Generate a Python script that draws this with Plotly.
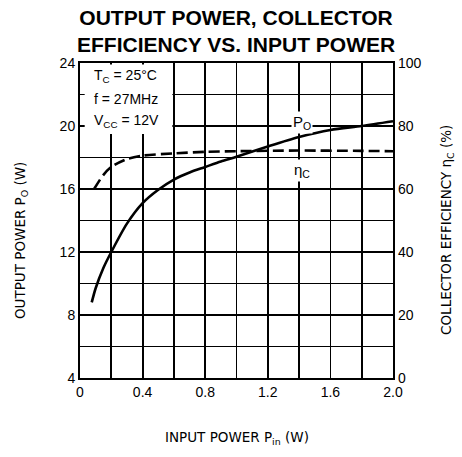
import plotly.graph_objects as go

# Data
pin_po = [0.075, 0.10, 0.15, 0.20, 0.30, 0.40, 0.50, 0.60, 0.70, 0.80, 0.90, 1.00, 1.20, 1.40, 1.60, 1.80, 2.00]
po_w = [8.8, 9.7, 11.0, 12.0, 13.8, 15.1, 15.95, 16.6, 17.05, 17.4, 17.75, 18.05, 18.7, 19.3, 19.75, 20.0, 20.3]

pin_eff = [0.09, 0.15, 0.20, 0.30, 0.40, 0.60, 0.80, 1.00, 1.40, 1.80, 2.00]
eff_pct = [60.0, 64.5, 67.0, 69.5, 70.6, 71.3, 71.8, 72.0, 72.2, 72.1, 72.0]

x_tickvals = [0, 0.4, 0.8, 1.2, 1.6, 2.0]
x_ticktext = ["0", "0.4", "0.8", "1.2", "1.6", "2.0"]
y_tickvals = [4, 8, 12, 16, 20, 24]
y2_tickvals = [0, 20, 40, 60, 80, 100]

conditions = ["T<sub>C</sub> = 25°C", "f = 27MHz", "V<sub>CC</sub> = 12V"]
condition_y = [23.15, 21.7, 20.3]

FONT = "Liberation Sans, Arial, Helvetica, sans-serif"
WIDE = "DejaVu Sans, Verdana, sans-serif"
GW = 1.8

fig = go.Figure()
fig.add_trace(go.Scatter(x=pin_po, y=po_w, mode="lines",
                         line=dict(color="black", width=2.6, shape="spline", smoothing=0.8),
                         showlegend=False, yaxis="y", hoverinfo="skip"))
fig.add_trace(go.Scatter(x=pin_eff, y=eff_pct, mode="lines",
                         line=dict(color="black", width=2.6, dash="11px,5px", shape="spline", smoothing=0.8),
                         showlegend=False, yaxis="y2", hoverinfo="skip"))

fig.update_layout(
    width=462, height=457,
    margin=dict(l=80, r=69, t=63, b=79, autoexpand=False),
    paper_bgcolor="white", plot_bgcolor="white",
    font=dict(family=FONT, color="black", size=14),
    xaxis=dict(range=[0, 2.0], tickvals=x_tickvals, ticktext=x_ticktext,
               showgrid=True, gridcolor="black", gridwidth=GW,
               minor=dict(dtick=0.2, tick0=0, showgrid=True, gridcolor="black", gridwidth=GW),
               showline=True, linecolor="black", linewidth=2, mirror=True,
               ticks="", tickfont=dict(size=14), zeroline=False, automargin=False),
    yaxis=dict(range=[4, 24], tickvals=y_tickvals,
               showgrid=True, gridcolor="black", gridwidth=GW,
               minor=dict(dtick=2, tick0=4, showgrid=True, gridcolor="black", gridwidth=GW),
               showline=True, linecolor="black", linewidth=2, mirror=True,
               ticks="", tickfont=dict(size=14), zeroline=False, automargin=False),
    yaxis2=dict(range=[0, 100], tickvals=y2_tickvals, overlaying="y", side="right",
                showgrid=False, showline=False, ticks="", tickfont=dict(size=14),
                ticklabelstandoff=4, zeroline=False, automargin=False),
)

# title
fig.add_annotation(text="<b>OUTPUT POWER, COLLECTOR<br>EFFICIENCY VS. INPUT POWER</b>",
                   xref="paper", yref="paper", x=0.4984, y=1.103, xanchor="center", yanchor="middle",
                   showarrow=False, font=dict(family=FONT, size=21, color="black"))

# white box hiding grid behind the conditions text
fig.add_shape(type="rect", xref="x", yref="y", x0=0.03, x1=0.59, y0=19.5, y1=23.9,
              fillcolor="white", line=dict(width=0), layer="between")

for txt, yy in zip(conditions, condition_y):
    fig.add_annotation(text=txt, xref="x", yref="y", x=0.075, y=yy, xanchor="left", yanchor="middle",
                       showarrow=False, align="left", font=dict(size=14))

fig.add_annotation(text="P<sub>O</sub>", xref="x", yref="y", x=1.42, y=20.25,
                   showarrow=False, bgcolor="white", font=dict(size=15))
fig.add_annotation(text="η<sub>C</sub>", xref="x", yref="y", x=1.42, y=17.2,
                   showarrow=False, bgcolor="white", font=dict(size=15))

# axis titles
fig.add_annotation(text="OUTPUT POWER P<sub>O</sub> (W)", xref="paper", yref="paper",
                   x=-0.1885, y=0.438, xanchor="center", yanchor="middle", textangle=-90,
                   showarrow=False, font=dict(family=WIDE, size=13.5))
fig.add_annotation(text="COLLECTOR EFFICIENCY η<sub>C</sub> (%)", xref="paper", yref="paper",
                   x=1.1725, y=0.47, xanchor="center", yanchor="middle", textangle=-90,
                   showarrow=False, font=dict(family=WIDE, size=13.5))
fig.add_annotation(text="INPUT POWER P<sub>in</sub> (W)", xref="paper", yref="paper",
                   x=0.5016, y=-0.19, xanchor="center", yanchor="middle",
                   showarrow=False, font=dict(family=WIDE, size=13.5))

fig.write_html("out.html", config={"displayModeBar": False, "staticPlot": True},
               post_script="document.body.style.margin='0px';")
